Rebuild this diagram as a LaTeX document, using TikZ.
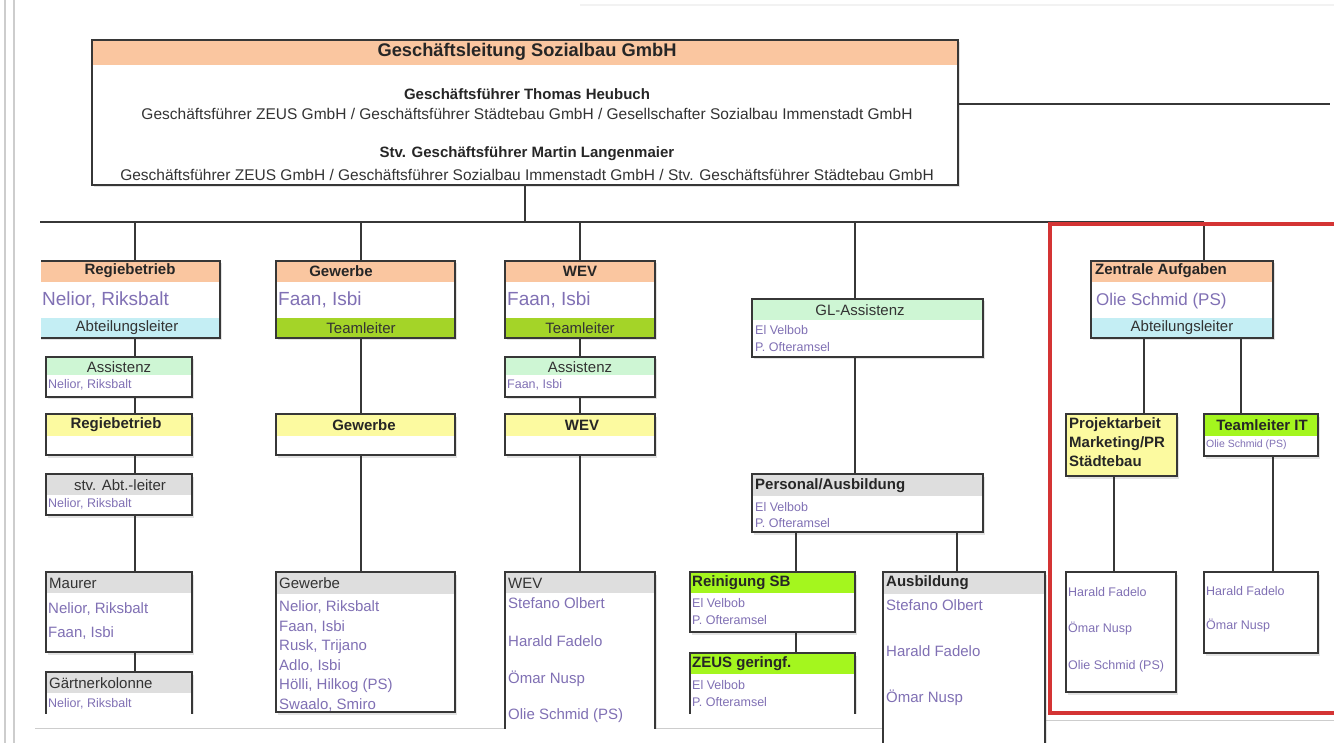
\documentclass[tikz,border=0pt]{standalone}
\usepackage{fontspec}
\setmainfont{Liberation Sans}
\usetikzlibrary{shadows}
\definecolor{bordc}{RGB}{55,55,55}
\definecolor{orangeH}{RGB}{250,198,160}
\definecolor{cyanB}{RGB}{196,238,244}
\definecolor{tlgreen}{RGB}{164,212,40}
\definecolor{lgreen}{RGB}{206,246,212}
\definecolor{yellowH}{RGB}{252,250,160}
\definecolor{grayH}{RGB}{222,222,222}
\definecolor{bgreen}{RGB}{164,246,30}
\definecolor{namec}{RGB}{128,112,180}
\definecolor{redframe}{RGB}{212,52,52}
\definecolor{pageline}{RGB}{205,205,205}
\tikzset{
 box/.style={draw=bordc, line width=1.5pt, fill=white, inner sep=0pt, outer sep=0pt,
   drop shadow={shadow xshift=1.5pt, shadow yshift=-2.5pt, opacity=0.22}},
 hd/.style 2 args={path picture={\fill[#1] (path picture bounding box.north west) rectangle ([yshift=-#2pt]path picture bounding box.north east);}},
 hf/.style n args={4}{path picture={\fill[#1] (path picture bounding box.north west) rectangle ([yshift=-#2pt]path picture bounding box.north east);
   \fill[#3] (path picture bounding box.south west) rectangle ([yshift=#4pt]path picture bounding box.south east);}},
 conn/.style={draw=bordc, line width=1.3pt},
 tb/.style={font=\fontsize{15}{19}\selectfont\bfseries, inner sep=0pt, text=black!85},
 tr/.style={font=\fontsize{15}{17}\selectfont, inner sep=0pt, text=black!80},
 trw/.style={font=\fontsize{15.5}{17}\selectfont, inner sep=0pt, text=black!80},
 tbig/.style={font=\fontsize{18.3}{20}\selectfont\bfseries, inner sep=0pt, text=black!85},
 nmL/.style={font=\fontsize{19}{21}\selectfont, text=namec, inner sep=0pt, anchor=west},
 nm/.style={font=\fontsize{15}{17}\selectfont, text=namec, inner sep=0pt, anchor=west},
 nmS/.style={font=\fontsize{12.5}{14}\selectfont, text=namec, inner sep=0pt, anchor=west},
 nmXS/.style={font=\fontsize{10.5}{12}\selectfont, text=namec, inner sep=0pt, anchor=west},
}
\newcommand\obox[6][]{\node[box,#1,minimum width={(#5)-(#3)},minimum height={(#6)-(#4)}] (#2) at ({((#3)+(#5))/2},{((#4)+(#6))/2}) {};}
\begin{document}
\begin{tikzpicture}[x=1pt,y=-1pt]
\useasboundingbox[fill=white] (0,0) rectangle (1334,743);
% page decorations
\draw[pageline, line width=1.2pt] (5,0) -- (5,743);
\draw[pageline, line width=1.2pt] (14,0) -- (14,743);
\draw[black!5, line width=1.5pt] (580,5) -- (1334,5);
\draw[pageline, line width=1pt] (35,728) -- (885,728);
\draw[pageline, line width=1pt] (1045,720) -- (1334,720);

% ===== Geschaeftsleitung
\obox[hd={orangeH}{25}]{gl}{92}{40}{958}{185}
\node[tbig] (glh) at (527,52) {Geschäftsleitung Sozialbau GmbH};
\node[tb] (gl1) at (527,94) {Geschäftsführer Thomas Heubuch};
\node[trw] (gl2) at (527,114) {Geschäftsführer ZEUS GmbH / Geschäftsführer Städtebau GmbH / Gesellschafter Sozialbau Immenstadt GmbH};
\node[tb] (gl3) at (527,154) {Stv. Geschäftsführer Martin Langenmaier};
\node[trw] (gl4) at (527,175) {Geschäftsführer ZEUS GmbH / Geschäftsführer Sozialbau Immenstadt GmbH / Stv. Geschäftsführer Städtebau GmbH};
\coordinate (glR) at (1330,104);
\draw[conn] (gl.east |- glR) -- (glR);
\coordinate (busL) at (40,222);
\coordinate (busR) at (1204,222);
\draw[conn] (gl.south) -- (gl.south |- busL);
\draw[conn] (busL) -- (busR);
\coordinate (c1) at (135,222);
\coordinate (c2) at (361,222);
\coordinate (c3) at (580,222);
\coordinate (c4) at (855,222);
\coordinate (c5) at (1204,222);

% ===== Column 1: Regiebetrieb
\begin{scope}
\clip (41,0) rectangle (1334,743);
\obox[hf={orangeH}{21}{cyanB}{20}]{reg}{28}{261}{220}{338}
\end{scope}
\node[tb] (regh) at (130,271) {Regiebetrieb};
\node[nmL] (regn) at (42,300) {Nelior, Riksbalt};
\node[tr] (regf) at (127,328) {Abteilungsleiter};

\obox[hd={lgreen}{18}]{ass1}{46}{357}{192}{397}
\node[tr] (ass1h) at (119,367) {Assistenz};
\node[nmS] (ass1n) at (48,385) {Nelior, Riksbalt};

\obox[hd={yellowH}{22}]{rb2}{46}{414}{192}{455}
\node[tb] (rb2h) at (116,425) {Regiebetrieb};

\obox[hd={grayH}{21}]{stv}{46}{474}{192}{515}
\node[tr] (stvh) at (120,485) {stv. Abt.-leiter};
\node[nmS] (stvn) at (48,504) {Nelior, Riksbalt};

\obox[hd={grayH}{21}]{maur}{46}{572}{192}{652}
\node[tr,anchor=west] (maurh) at (49,583) {Maurer};
\node[nm] (maurn1) at (48,609) {Nelior, Riksbalt};
\node[nm] (maurn2) at (48,633) {Faan, Isbi};

\begin{scope}
\clip (0,0) rectangle (1334,713);
\obox[hd={grayH}{21}]{gaert}{46}{672}{192}{730}
\end{scope}
\node[tr,anchor=west] (gaerth) at (49,683) {Gärtnerkolonne};
\node[nmS] (gaertn) at (48,704) {Nelior, Riksbalt};

\draw[conn] (c1) -- (c1 |- reg.north);
\draw[conn] (c1 |- reg.south) -- (c1 |- ass1.north);
\draw[conn] (c1 |- ass1.south) -- (c1 |- rb2.north);
\draw[conn] (c1 |- rb2.south) -- (c1 |- stv.north);
\draw[conn] (c1 |- stv.south) -- (c1 |- maur.north);
\draw[conn] (c1 |- maur.south) -- (c1 |- gaert.north);

% ===== Column 2: Gewerbe
\obox[hf={orangeH}{21}{tlgreen}{20}]{gew}{276}{261}{455}{338}
\node[tb] (gewh) at (341,271) {Gewerbe};
\node[nmL] (gewn) at (278,300) {Faan, Isbi};
\node[tr] (gewf) at (361,328) {Teamleiter};

\obox[hd={yellowH}{22}]{gew2}{276}{414}{455}{455}
\node[tb] (gew2h) at (364,425) {Gewerbe};

\obox[hd={grayH}{22}]{gew3}{276}{572}{455}{712}
\node[tr,anchor=west] (gew3h) at (279,583) {Gewerbe};
\node[nm] (gew3n1) at (279,607) {Nelior, Riksbalt};
\node[nm] (gew3n2) at (279,627) {Faan, Isbi};
\node[nm] (gew3n3) at (279,647) {Rusk, Trijano};
\node[nm] (gew3n4) at (279,666) {Adlo, Isbi};
\node[nm] (gew3n5) at (279,686) {Hölli, Hilkog (PS)};
\node[nm] (gew3n6) at (279,705) {Swaalo, Smiro};

\draw[conn] (c2) -- (c2 |- gew.north);
\draw[conn] (c2 |- gew.south) -- (c2 |- gew2.north);
\draw[conn] (c2 |- gew2.south) -- (c2 |- gew3.north);

% ===== Column 3: WEV
\obox[hf={orangeH}{21}{tlgreen}{20}]{wev}{505}{261}{655}{338}
\node[tb] (wevh) at (580,271) {WEV};
\node[nmL] (wevn) at (507,300) {Faan, Isbi};
\node[tr] (wevf) at (580,328) {Teamleiter};

\obox[hd={lgreen}{18}]{ass3}{505}{357}{655}{397}
\node[tr] (ass3h) at (580,367) {Assistenz};
\node[nmS] (ass3n) at (507,385) {Faan, Isbi};

\obox[hd={yellowH}{22}]{wev2}{505}{414}{655}{455}
\node[tb] (wev2h) at (582,425) {WEV};

\begin{scope}
\clip (0,0) rectangle (1334,728);
\obox[hd={grayH}{21}]{wev3}{505}{572}{655}{745}
\end{scope}
\node[tr,anchor=west] (wev3h) at (508,583) {WEV};
\node[nm] (wev3n1) at (508,603) {Stefano Olbert};
\node[nm] (wev3n2) at (508,641) {Harald Fadelo};
\node[nm] (wev3n3) at (508,679) {Ömar Nusp};
\node[nm] (wev3n4) at (508,716) {Olie Schmid (PS)};

\draw[conn] (c3) -- (c3 |- wev.north);
\draw[conn] (c3 |- wev.south) -- (c3 |- ass3.north);
\draw[conn] (c3 |- ass3.south) -- (c3 |- wev2.north);
\draw[conn] (c3 |- wev2.south) -- (c3 |- wev3.north);

% ===== Column 4: GL-Assistenz
\obox[hd={lgreen}{21}]{gla}{752}{299}{983}{357}
\node[tr] (glah) at (860,310) {GL-Assistenz};
\node[nmS] (glan1) at (755,330) {El Velbob};
\node[nmS] (glan2) at (755,347) {P. Ofteramsel};

\obox[hd={grayH}{22}]{pers}{752}{474}{983}{532}
\node[tb,anchor=west] (persh) at (755,486) {Personal/Ausbildung};
\node[nmS] (persn1) at (755,507) {El Velbob};
\node[nmS] (persn2) at (755,523) {P. Ofteramsel};

\obox[hd={bgreen}{21}]{rein}{690}{572}{855}{632}
\node[tb,anchor=west] (reinh) at (692,583) {Reinigung SB};
\node[nmS] (reinn1) at (692,603) {El Velbob};
\node[nmS] (reinn2) at (692,620) {P. Ofteramsel};

\begin{scope}
\clip (0,0) rectangle (1334,713);
\obox[hd={bgreen}{21}]{zeus}{690}{653}{855}{730}
\end{scope}
\node[tb,anchor=west] (zeush) at (692,664) {ZEUS geringf.};
\node[nmS] (zeusn1) at (692,685) {El Velbob};
\node[nmS] (zeusn2) at (692,702) {P. Ofteramsel};

\begin{scope}
\clip (0,0) rectangle (1334,743);
\obox[hd={grayH}{22}]{ausb}{883}{572}{1045}{760}
\end{scope}
\node[tb,anchor=west] (ausbh) at (886,583) {Ausbildung};
\node[nm] (ausbn1) at (886,605) {Stefano Olbert};
\node[nm] (ausbn2) at (886,651) {Harald Fadelo};
\node[nm] (ausbn3) at (886,698) {Ömar Nusp};

\coordinate (c4a) at (796,0);
\coordinate (c4b) at (957,0);
\draw[conn] (c4) -- (c4 |- gla.north);
\draw[conn] (c4 |- gla.south) -- (c4 |- pers.north);
\draw[conn] (c4a |- pers.south) -- (c4a |- rein.north);
\draw[conn] (c4a |- rein.south) -- (c4a |- zeus.north);
\draw[conn] (c4b |- pers.south) -- (c4b |- ausb.north);

% ===== Column 5: Zentrale Aufgaben
\obox[hf={orangeH}{21}{cyanB}{20}]{zen}{1091}{261}{1273}{338}
\node[tb,anchor=west] (zenh) at (1095,271) {Zentrale Aufgaben};
\node[font=\fontsize{17}{19}\selectfont, text=namec, inner sep=0pt, anchor=west] (zenn) at (1096,301) {Olie Schmid (PS)};
\node[tr] (zenf) at (1182,328) {Abteilungsleiter};

\obox[fill=yellowH]{proj}{1066}{414}{1177}{476}
\node[tb,anchor=north west,align=left] (projt) at (1069,417) {Projektarbeit\\Marketing/PR\\Städtebau};

\obox[hd={bgreen}{22}]{tit}{1204}{414}{1318}{456}
\node[tb] (tith) at (1262,425) {Teamleiter IT};
\node[nmXS] (titn) at (1206,445) {Olie Schmid (PS)};

\obox{proj2}{1066}{572}{1176}{692}
\node[nmS] (proj2n1) at (1068,592) {Harald Fadelo};
\node[nmS] (proj2n2) at (1068,629) {Ömar Nusp};
\node[nmS] (proj2n3) at (1068,666) {Olie Schmid (PS)};

\obox{tit2}{1204}{572}{1318}{653}
\node[nmS] (tit2n1) at (1206,591) {Harald Fadelo};
\node[nmS] (tit2n2) at (1206,626) {Ömar Nusp};

\coordinate (c5a) at (1144,0);
\coordinate (c5b) at (1241,0);
\coordinate (c5c) at (1114,0);
\coordinate (c5d) at (1273,0);
\draw[conn] (c5) -- (c5 |- zen.north);
\draw[conn] (c5a |- zen.south) -- (c5a |- proj.north);
\draw[conn] (c5b |- zen.south) -- (c5b |- tit.north);
\draw[conn] (c5c |- proj.south) -- (c5c |- proj2.north);
\draw[conn] (c5d |- tit.south) -- (c5d |- tit2.north);

% red highlight frame
\draw[redframe, line width=4pt] (1050,224) rectangle (1345,713);
\end{tikzpicture}
\end{document}
